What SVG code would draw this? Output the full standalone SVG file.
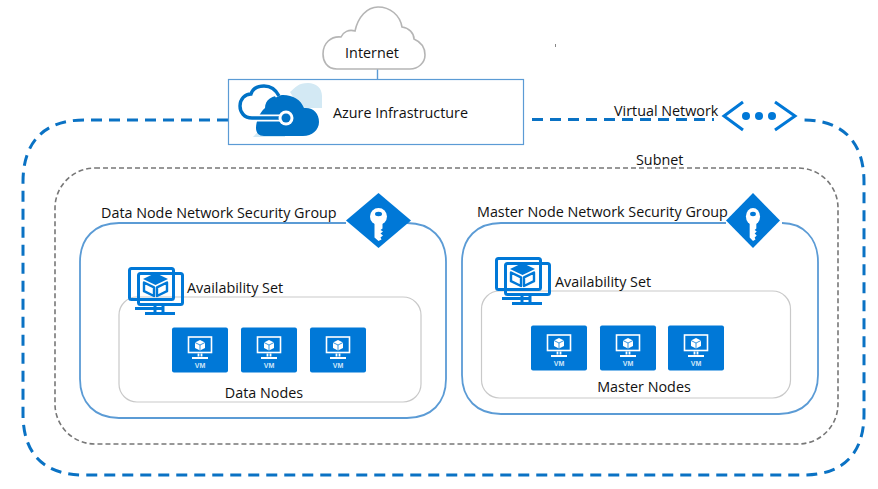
<svg xmlns="http://www.w3.org/2000/svg" width="878" height="489" viewBox="0 0 878 489">
<style>
text{font-family:"Open Sans","Noto Sans","Liberation Sans",sans-serif;font-size:14.35px;fill:#111}
.vnet{fill:none;stroke:#0a72c4;stroke-width:3;stroke-dasharray:11 7}
.sub{fill:none;stroke:#777;stroke-width:1.6;stroke-dasharray:5 3}
.nsg{fill:none;stroke:#5b9bd5;stroke-width:1.8}
.inner{fill:#fff;stroke:#c9c9c9;stroke-width:1.2}
.blue{fill:#0078d7}
.ol{fill:none;stroke:#0078d7}
.w{fill:none;stroke:#fff}
.vmt{font-family:"Liberation Sans",sans-serif;font-size:7px;font-weight:bold;fill:#cfe6f8;text-anchor:middle}
</style>
<defs>
<g id="vm">
<rect width="56" height="45" rx="2" class="blue"/>
<rect x="16.500" y="9.500" width="23" height="15.500" class="w" stroke-width="1.600"/>
<path d="M26.500 26v3M29.500 26v3M20 30.500h16" class="w" stroke-width="1.800"/>
<path d="M28 12.500l5 2.500v5.500l-5 2.500-5-2.500V15z" fill="#fff"/>
<path d="M23 15l5 2.500 5-2.500M28 17.500v5.500" fill="none" stroke="#0078d7" stroke-width=".8"/>
<text x="28" y="40" class="vmt">VM</text>
</g>
<g id="key">
<path d="M0-27.500L32.500 0 0 27.500-32.500 0z" class="blue"/>
<circle cx="0" cy="-4" r="8.500" fill="#fff"/>
<ellipse cx="0" cy="-6.500" rx="3.500" ry="2.200" fill="#0078d7"/>
<path d="M-4 2H4V8L2 9.500 4.500 11 2 13 4.500 15 2 17 3 19 0 20.500-4 17z" fill="#fff"/>
</g>
<g id="avset">
<rect x="1.500" y="1.500" width="44" height="31" rx="2" class="ol" stroke-width="3"/>
<rect x="10.500" y="6.500" width="44" height="31" rx="2" class="ol" stroke-width="3"/>
<path d="M7 41.500H35M17 46.500H47" class="ol" stroke-width="3"/>
<path d="M27 38v8M35 38v8" class="ol" stroke-width="3"/>
<path d="M27.500 6L40 12 27.500 18 15 12z" class="blue"/>
<path d="M16 15.500L26 20.300V29L16 24.200zM39 15.500L29 20.300V29L39 24.200z" fill="#fff" stroke="#0078d7" stroke-width="2.400" stroke-linejoin="round"/>
</g>
</defs>

<g id="connectors">
<path d="M377.500 69V80" stroke="#5b9bd5" stroke-width="1.400" fill="none"/>
<path class="vnet" d="M228 120H84C44 120 23 142 23 182V414C23 454 44 475 84 475H803C843 475 864 454 864 414V182C864 142 843 120 803 120"/>
<path class="vnet" d="M532 119.500H714"/>
</g>

<g id="internet">
<path d="M337 69C326 69 323 60 323 54C323 43 331 36 341 37C343 32 349 29 355 31C358 17 367 7 378 7C390 7 400 15 402 27C409 28 414 33 414 39C421 42 425 48 425 55C425 63 418 69 410 69Z" fill="#fff" stroke="#b5b5b5" stroke-width="1.600"/>
<text x="372" y="58" text-anchor="middle">Internet</text>
</g>
<path id="speck" d="M555.500 44v3" stroke="#888" stroke-width="1" fill="none"/>

<g id="azure">
<rect x="228.500" y="79.500" width="295" height="65" fill="#fff" stroke="#5b9bd5" stroke-width="1.200"/>
<path d="M290 92C296 87 298 83 308 83C316 83 322 88 322 96V108H300Z" fill="#d3e9f4"/>
<path d="M262 127L253 137H285V127Z" fill="#d3e9f4"/>
<path d="M265 108C265 100 272 95 283 95C293 95 301 100 304 108C313 107 319 113 319 122C319 130 312 136 303 136H264C259 136 256 133 256 128C256 122 259 113 265 108Z" fill="#0072c6"/>
<path d="M281 118H252C244 118 240 112 240 106C240 99 245 94 251 94C253 88 259 86 264 86C271 86 276 90 279 96" fill="none" stroke="#fff" stroke-width="7"/>
<path d="M281 118H252C244 118 240 112 240 106C240 99 245 94 251 94C253 88 259 86 264 86C271 86 276 90 279 96" fill="none" stroke="#0072c6" stroke-width="3.400"/>
<circle cx="286" cy="118" r="7.500" fill="#fff"/>
<circle cx="286" cy="118" r="4.500" fill="#0072c6"/>
<text x="333" y="118">Azure Infrastructure</text>
</g>

<g id="virtual-network">
<text x="614" y="116">Virtual Network</text>
<path d="M743 102L724 116 743 130M775 102L795 116 775 130" fill="none" stroke="#0078d7" stroke-width="3"/>
<circle cx="746" cy="116" r="4" class="blue"/><circle cx="759" cy="116" r="4" class="blue"/><circle cx="772" cy="116" r="4" class="blue"/>
</g>

<g id="subnet">
<rect x="55" y="168" width="783" height="276" rx="40" class="sub"/>
<text x="636" y="165">Subnet</text>
</g>

<g id="data-nsg">
<path class="nsg" d="M346 223H119C95 223 80 238 80 262V379C80 403 95 418 119 418H407C431 418 446 403 446 379V262C446 238 431 223 407 223"/>
<text x="101" y="218">Data Node Network Security Group</text>
<use href="#key" x="378.500" y="220.500"/>
</g>
<g id="data-availability">
<rect x="119" y="297" width="302" height="105" rx="18" class="inner"/>
<use href="#avset" x="128" y="267"/>
<text x="187" y="293">Availability Set</text>
</g>
<g id="data-nodes">
<use href="#vm" x="172" y="327.500"/>
<use href="#vm" x="241" y="327.500"/>
<use href="#vm" x="310" y="327.500"/>
<text x="264" y="398" text-anchor="middle">Data Nodes</text>
</g>

<g id="master-nsg">
<path class="nsg" d="M726 223H501C477 223 462 238 462 262V375C462 399 477 414 501 414H779C803 414 818 399 818 375V262C818 238 803 223 782 223"/>
<text x="477" y="217">Master Node Network Security Group</text>
<use href="#key" transform="translate(753 220.500) scale(.83 1)"/>
</g>
<g id="master-availability">
<rect x="481.500" y="291" width="309" height="107" rx="18" class="inner"/>
<use href="#avset" x="495" y="257"/>
<text x="555" y="287">Availability Set</text>
</g>
<g id="master-nodes">
<use href="#vm" x="531" y="325.500"/>
<use href="#vm" x="600" y="325.500"/>
<use href="#vm" x="668" y="325.500"/>
<text x="644" y="392" text-anchor="middle">Master Nodes</text>
</g>
</svg>
